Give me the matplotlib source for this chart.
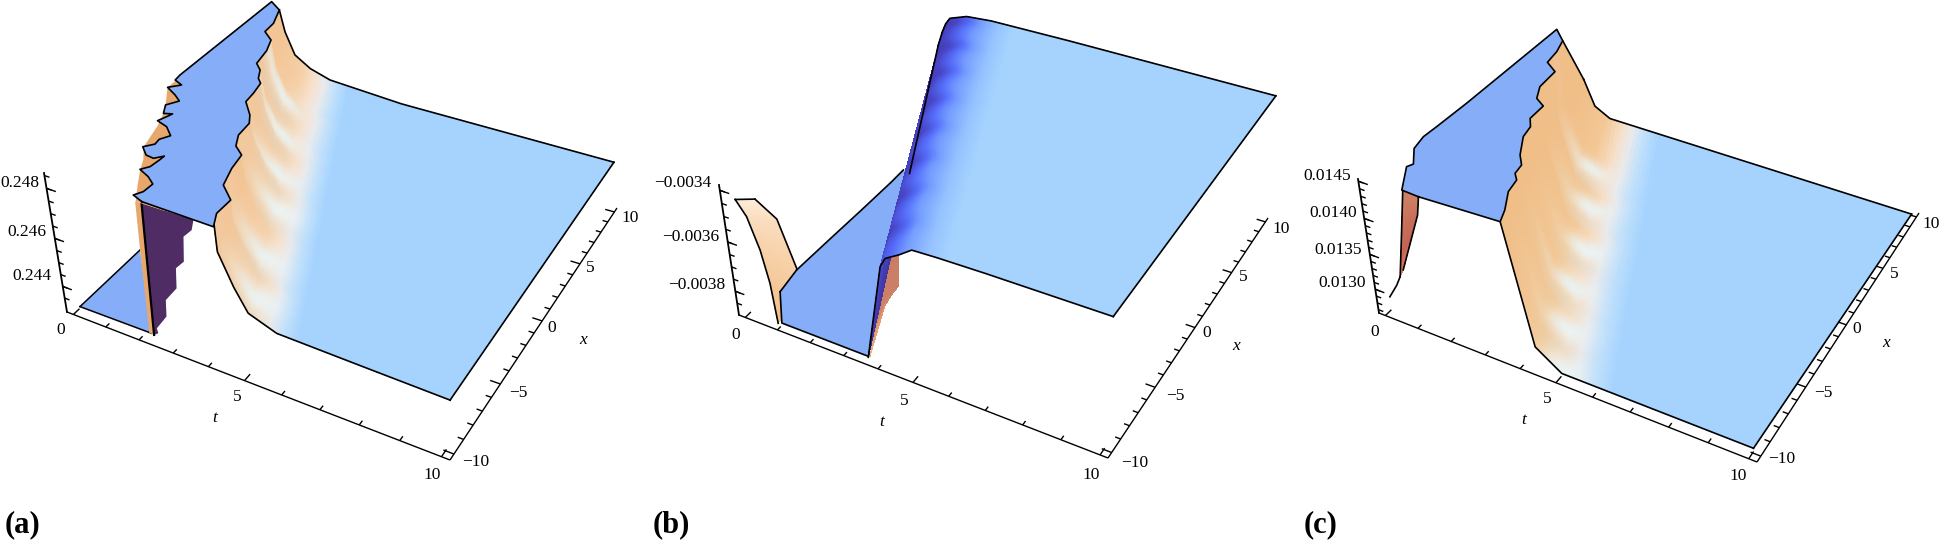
import numpy as np, matplotlib
matplotlib.use('Agg')
import matplotlib.pyplot as plt
from mpl_toolkits.mplot3d import art3d

W_PX, H_PX = 1939, 542
BLUE = (134/255, 173/255, 247/255)
PURPLE = '#502C64'
STRIP = '#E8A76C'
SERIF = 'Liberation Serif'

# ---------- panel (a) values ----------
a_zbox = (.2429, .2486)
a_zhi = .248315
a_zlo = .243185
a_ticks_major = [.244, .246, .248]
a_ticks_minor = [.2435, .2440, .2445, .2450, .2455, .2460, .2465, .2470, .2475, .2480, .2485]
a_start_x = [-10, -9.78, -8.86, -7.69, -6.84, -5.50, -4.32, -3.78, -2.90, -1.76, -1.08, -.10, .76, 1.78, 2.15, 2.92, 3.43, 4.82, 5.92, 6.58, 7.59, 9.08, 10]
a_start_t = [4.42, 4.32, 4.11, 4.12, 3.65, 3.46, 3.37, 3.04, 2.84, 2.80, 2.61, 2.19, 2.15, 2.06, 1.88, 1.70, 1.44, 1.33, 1.14, .75, .72, .47, .18]
a_front_t = [4.42, 4.44, 4.79, 5.13, 5.86, 7.22, 10.11]
a_front_z = [.24877, .24753, .24636, .24550, .24510, .24505, .24496]
a_back_t = [.18, .32, .61, 1.09, 1.73, 4.0, 10.10]
a_back_z = [.24792, .24701, .24606, .24562, .24533, .24510, .24501]
a_left_t = [2.34, 2.01, 2.14, 2.16, 1.89, 1.54, 1.69, 1.73, 1.74, 1.56, 1.32, 1.04, 1.24, 1.21, 1.37, 1.05, .69, .79, .85, .63, .45, .66, .40, .01, .27, -.02, -.05, .02]
a_left_x = [-9.69, -9.44, -9.00, -8.29, -7.89, -7.57, -7.16, -6.49, -6.10, -6.50, -6.43, -5.91, -5.44, -5.00, -4.47, -3.88, -3.63, -3.11, -2.76, -2.93, -2.21, -1.58, -1.19, -.73, -.21, .06, .60, 9.75]
a_outer_t = [2.21, 1.90, 1.56, 1.37, 1.06, .83, .63, .45, .01, .01, 1.2, 3.0]
a_outer_x = [-9.82, -8.80, -7.61, -6.80, -5.88, -4.04, -2.93, -2.21, -.73, .10, 0, -9.8]
a_purple_t = [2.45, 3.87, 3.79, 3.54, 3.47, 3.22, 3.17, 2.81, 2.77, 2.43, 2.46, 2.32]
a_purple_z = [.24844, .24846, .24804, .24767, .24667, .24629, .24546, .24480, .24410, .24342, .24323, .24308]
a_strip_t = [2.27, 2.45, 2.32, 2.18, 2.23]
a_strip_z = [.24842, .24844, .24308, .24310, .24652]
a_low_t = [.14, 2.29, .14]
a_low_x = [-10.14, -10.10, -4.96]
a_spot_t = [1.60, 2.30, 3.00, 3.70, 4.40, 5.00]
a_spot_x = [5.30, 2.60, -.20, -2.60, -6.20, -8.90]

# ---------- panel (b) values ----------
b_zbox = (-.0039, -.00338)
b_zlo = -.0038896
b_ticks_major = [-.0038, -.0036, -.0034]
b_ticks_minor = [-.00385, -.00380, -.00375, -.00370, -.00365, -.00360, -.00355, -.00350, -.00345, -.00340]
b_start_x = [-10, 10]
b_start_t = [3.60, .05]
b_front_t = [3.60, 4.17, 4.33, 4.71, 5.08, 5.65, 6.86, 10.12]
b_front_z = [-.003894, -.003503, -.003464, -.003433, -.003397, -.003393, -.003389, -.003385]
b_back_t = [.05, .20, .33, .48, 1.03, 1.78, 4.0, 10.12]
b_back_z = [-.00356, -.00350, -.00346, -.003432, -.003406, -.003397, -.003393, -.003391]
b_low_t = [.27, 1.01, 3.60, 1.0, .32, .32, .27, .21, .15]
b_low_x = [-7.97, -10.0, -10.0, 4.55, 4.55, 3.24, .13, -2.76, -6.05]
b_orange_left_t = [.07, .35, .63, .80, .89]
b_orange_left_z = [-.003439, -.003492, -.003610, -.003735, -.003897]
b_orange_right_t = [.69, 1.28, 1.70, 1.11, 1.09]
b_orange_right_z = [-.003410, -.003459, -.003630, -.003754, -.003851]
b_brown_left_t = [4.28, 4.10, 3.90, 3.65]
b_brown_left_z = [-.003472, -.003650, -.003760, -.003888]
b_brown_right_t = [4.70, 4.64, 4.28, 3.65]
b_brown_right_z = [-.003437, -.003555, -.003625, -.003888]
b_ripple_x = [-8, -5.5, -3, -.5, 2, 4.5, 7, 9.5]

# ---------- panel (c) values ----------
c_zbox = (.01265, .01453)
c_zhi = .014436
c_ticks_major = [.0130, .0135, .0140, .0145]
c_ticks_minor = [.0127, .0128, .0129, .0130, .0131, .0132, .0133, .0134, .0135, .0136, .0137, .0138, .0139, .0140, .0141, .0142, .0143, .0144, .0145]
c_start_x = [-10, -9.53, -8.68, -7.39, -6.41, -5.99, -5.25, -4.57, -3.14, -2.21, -1.58, -.28, .18, 1.23, 2.88, 3.51, 4.70, 5.86, 10]
c_start_t = [3.68, 3.51, 3.36, 3.04, 2.96, 2.78, 2.73, 2.47, 2.11, 2.03, 1.82, 1.81, 1.47, 1.24, 1.20, .77, .70, .54, -.15]
c_front_t = [3.68, 4.35, 5.05, 10.02]
c_front_z = [.01454, .01296, .01272, .01272]
c_back_t = [-.15, .19, .69, 10.06]
c_back_z = [.01326, .01288, .01275, .01267]
c_left_t = [1.29, .79, .32, .40, .02, -.08, -.05, 0, .07]
c_left_x = [-9.75, -9.69, -8.02, -7.68, -6.57, -5.51, -4.45, -1.93, 6.78]
c_brown_left_t = [.95, .73, .49]
c_brown_left_z = [.01450, .01389, .01324]
c_brown_right_t = [1.40, 1.30, .62]
c_brown_right_z = [.01449, .01423, .01336]
c_tail_t = [.49, .34, .06]
c_tail_z = [.01324, .01309, .01287]
c_spot_t = [1.60, 2.40, 3.20, 3.70, 4.40, 5.00]
c_spot_x = [4.60, 1.60, -1.60, -4.60, -7.40, -9.90]

t_major = [0, 5, 10]
t_minor = [1, 2, 3, 4, 6, 7, 8, 9]
x_major = [-10, -5, 0, 5, 10]
x_minor = [v for v in range(-9, 10) if v % 5]

STOPS_A = [(0, (243, 196, 148)), (.3, (245, 208, 168)), (.5, (247, 225, 205)), (.65, (233, 234, 236)), (.8, (195, 225, 250)), (1, (165, 211, 254))]
STOPS_C = [(0, (240, 190, 135)), (.3, (243, 200, 150)), (.5, (247, 222, 198)), (.65, (233, 234, 236)), (.8, (195, 225, 250)), (1, (165, 211, 254))]
STOPS_B = [(0, (64, 52, 160)), (.2, (72, 70, 200)), (.38, (85, 110, 250)), (.55, (115, 155, 255)), (.8, (150, 195, 255)), (1, (165, 211, 254))]


def cmap_eval(stops, u):
    pos = [s[0] for s in stops]
    return np.stack([np.interp(u, pos, [s[1][i] / 255 for s in stops]) for i in range(3)], axis=-1)


def make_panel(box_px, cam, zbox):
    """An Axes3D over one panel whose camera reproduces the reference's perspective."""
    px0, px1 = box_px
    ax = fig.add_axes([px0 / W_PX, 0, (px1 - px0) / W_PX, 1], projection='3d', computed_zorder=False)
    ax.set_axis_off()
    ax.patch.set_alpha(0)
    ax.set_proj_type('ortho')
    ax.apply_aspect = lambda position=None: None
    O, P1, P2, P3, a, b, c = cam
    O, P1, P2, P3 = map(lambda p: np.array(p, float), (O, P1, P2, P3))
    A = P1 * (1 + a) - O
    B = P2 * (1 + a + b) - O - A
    C = P3 * (1 + c) - O
    zb, zt = zbox

    def get_proj():
        xl = ax.viewLim.intervalx
        yl = ax.viewLim.intervaly
        norm = np.array([[1 / 10.4, 0, 0, .2 / 10.4],
                         [0, 1 / 20.8, 0, 10.4 / 20.8],
                         [0, 0, 1 / (zt - zb), -zb / (zt - zb)],
                         [0, 0, 0, 1]])
        w_row = np.array([a, b, c, 1.0])
        x_row = np.array([A[0], B[0], C[0], O[0]])
        y_row = np.array([A[1], B[1], C[1], O[1]])
        sx = (xl[1] - xl[0]) / (px1 - px0)
        sy = (yl[1] - yl[0]) / H_PX
        r0 = (x_row - px0 * w_row) * sx + xl[0] * w_row
        r1 = (H_PX * w_row - y_row) * sy + yl[0] * w_row
        r2 = np.array([-.3, .3, -.25, -1.5])
        return np.array([r0, r1, r2, w_row]) @ norm
    ax.get_proj = get_proj
    ax.set_xlim(0, 10)
    ax.set_ylim(-10, 10)
    ax.set_zlim(zb, zt)
    return ax


def box_axes(ax, zbox, zmaj, zmin, labels_px):
    zb, zt = zbox
    lw = 1.0
    kw = dict(color='k', lw=lw, zorder=2, solid_capstyle='butt')
    ax.plot([-.2, 10.2], [-10.4, -10.4], [zb, zb], **kw)
    ax.plot([10.2, 10.2], [-10.4, 10.4], [zb, zb], **kw)
    ax.plot([-.2, -.2], [-10.4, -10.4], [zb, zt], color='k', lw=1.3, zorder=2)
    for v in t_major + t_minor:
        L = .5 if v in t_major else .3
        ax.plot([v, v], [-10.4, -10.4 + L], [zb, zb], **kw)
    for v in x_major + x_minor:
        L = .25 if v in x_major else .14
        ax.plot([10.2, 10.2 - L], [v, v], [zb, zb], **kw)
    for v in zmin:
        ax.plot([-.2, -.05], [-10.4, -10.4], [v, v], **kw)
    for v in zmaj:
        ax.plot([-.2, .08], [-10.4, -10.4], [v, v], **kw)
    for s, px, py, style in labels_px:
        ax.text2D(px / W_PX, 1 - py / H_PX, s, transform=fig.transFigure, ha='center', va='center',
                  family=SERIF, fontsize=12.5, style=style, zorder=20)


def wall(ax, xs_tab, ts_tab, z_mid, front_t, front_z, back_t, back_z, decay, tc, stops, zo,
         spot_t=(), spot_x=(), line_from=10., ripple=(), hi=(.91, .97, .99)):
    nr, nc = 260, 220
    xs = np.linspace(-10, 10, nr)
    te = np.interp(xs, xs_tab, ts_tab)
    zs = np.interp(xs, xs_tab, [front_z[0]] + [z_mid] * (len(xs_tab) - 2) + [back_z[0]])
    K = len(front_t)
    kk = np.linspace(0, K - 1, nc)
    f = (xs + 10) / 20
    ft = np.interp(kk, range(K), front_t)
    bt = np.interp(kk, range(K), back_t)
    fz = np.interp(kk, range(K), front_z)
    bz = np.interp(kk, range(K), back_z)
    dc = np.interp(kk, range(K), decay)
    base0 = (1 - f) * front_t[0] + f * back_t[0]
    T = np.outer(1 - f, ft) + np.outer(f, bt) + np.outer(te - base0, dc)
    Z = np.outer(1 - f, fz) + np.outer(f, bz)
    Z[:, 0] = zs
    X = np.outer(xs, np.ones(nc))
    tce = (1 - f) * tc[0] + f * tc[1]
    U = (T - te[:, None]) / (tce - te)[:, None]
    for rx in ripple:
        U = U - .10 * np.exp(-((X - rx) / .65) ** 2) * np.exp(-((U - .35) / .3) ** 2)
    U = np.clip(U, 0, 1)
    C = cmap_eval(stops, U)
    for st, sx in zip(spot_t, spot_x):
        g = np.exp(-((T - st) / .55) ** 2 - ((X - sx) / .8) ** 2)[..., None]
        C = C * (1 - .8 * g) + np.array(hi) * .8 * g
        g2 = np.exp(-((T - st - .15) / .5) ** 2 - ((X - sx + 1.25) / .55) ** 2)[..., None]
        C = C * (1 - .3 * g2) + np.array([.84, .84, .80]) * .3 * g2
    ax.plot_surface(T, X, Z, facecolors=C, rstride=1, cstride=1, shade=False, linewidth=0,
                    antialiased=False, zorder=zo)
    kw = dict(color='k', lw=1.2, zorder=zo + 1)
    ax.plot(T[0], X[0], Z[0], **kw)
    ax.plot(T[-1], X[-1], Z[-1], **kw)
    ax.plot(T[:, -1], X[:, -1], Z[:, -1], **kw)
    sel = xs >= line_from
    if sel.sum() > 1:
        ax.plot(T[sel, 0], X[sel, 0], Z[sel, 0], **kw)


def poly(ax, t, x, z, color, zo, line=None):
    v = [list(zip(t, x, z))]
    p = art3d.Poly3DCollection(v, facecolor=color, edgecolor='none', linewidth=0, zorder=zo)
    ax.add_collection3d(p, autolim=False)
    if line is not None:
        ax.plot(list(t) + [t[0]], list(x) + [x[0]], list(z) + [z[0]], color='k', lw=line, zorder=zo + 1)


def patch(ax, lt, lz, rt, rz, x0, stops, zo):
    n, m = 60, 20
    p = np.linspace(0, 1, n)
    lp = np.linspace(0, 1, len(lt))
    rp = np.linspace(0, 1, len(rt))
    Lt, Lz = np.interp(p, lp, lt), np.interp(p, lp, lz)
    Rt, Rz = np.interp(p, rp, rt), np.interp(p, rp, rz)
    s = np.linspace(0, 1, m)
    T = np.outer(Lt, 1 - s) + np.outer(Rt, s)
    Z = np.outer(Lz, 1 - s) + np.outer(Rz, s)
    X = np.full_like(T, x0, dtype=float)
    C = cmap_eval(stops, np.outer(p, np.ones(m)))
    ax.plot_surface(T, X, Z, facecolors=C, rstride=1, cstride=1, shade=False, linewidth=0,
                    antialiased=False, zorder=zo)


fig = plt.figure(figsize=(W_PX / 100, H_PX / 100), dpi=100, facecolor='white')

# ---- panel (a)
axa = make_panel((0, 640), ((67, 312), (450, 460), (617, 208), (44, 173), -.136, .2, -.0565), a_zbox)
box_axes(axa, a_zbox, a_ticks_major, a_ticks_minor, [
    ('0', 61, 330, 'normal'), ('5', 237, 397, 'normal'), ('10', 432, 475, 'normal'), ('t', 215, 418, 'italic'),
    ('10', 630, 218, 'normal'), ('5', 590, 268, 'normal'), ('0', 552, 328, 'normal'), ('\u22125', 518, 393, 'normal'),
    ('\u221210', 476, 462, 'normal'), ('x', 583, 340, 'italic'),
    ('0.248', 20, 183, 'normal'), ('0.246', 27, 232, 'normal'), ('0.244', 32, 276, 'normal')])
poly(axa, a_low_t, a_low_x, [a_zlo] * 3, BLUE, 3)
axa.plot(a_low_t[:2], a_low_x[:2], [a_zlo] * 2, color='k', lw=1.1, zorder=4)
axa.plot([a_low_t[0], a_low_t[2]], [a_low_x[0], a_low_x[2]], [a_zlo] * 2, color='k', lw=1.1, zorder=4)
poly(axa, a_purple_t, [-10] * len(a_purple_t), a_purple_z, PURPLE, 5)
poly(axa, a_strip_t, [-10] * len(a_strip_t), a_strip_z, STRIP, 6)
axa.plot(a_strip_t[1:3], [-10, -10], a_strip_z[1:3], color='k', lw=1.6, zorder=7)
poly(axa, a_outer_t, a_outer_x, [a_zhi] * len(a_outer_t), STRIP, 8)
wall(axa, a_start_x, a_start_t, a_zhi, a_front_t, a_front_z, a_back_t, a_back_z,
     [1, .8, .5, .25, .1, 0, 0], (6.4, 2.3), STOPS_A, 10, a_spot_t, a_spot_x, line_from=9.08)
aR_t = a_start_t[1:-1]
aR_x = a_start_x[1:-1]
poly(axa, a_left_t + aR_t[::-1], a_left_x + aR_x[::-1], [a_zhi] * (len(a_left_t) + len(aR_t)), BLUE, 14, line=1.2)

# ---- panel (b)
axb = make_panel((640, 1290), ((739, 315), (1108, 458), (1268, 218), (719, 185), -.108, .17, -.0617), b_zbox)
box_axes(axb, b_zbox, b_ticks_major, b_ticks_minor, [
    ('0', 736, 335, 'normal'), ('5', 904, 401, 'normal'), ('t', 882, 422, 'italic'), ('10', 1091, 475, 'normal'),
    ('10', 1281, 229, 'normal'), ('5', 1243, 277, 'normal'), ('0', 1207, 333, 'normal'), ('\u22125', 1175, 396, 'normal'),
    ('\u221210', 1135, 463, 'normal'), ('x', 1236, 346, 'italic'),
    ('\u22120.0034', 683, 183, 'normal'), ('\u22120.0036', 691, 237, 'normal'), ('\u22120.0038', 697, 285, 'normal')])
patch(axb, b_orange_left_t, b_orange_left_z, b_orange_right_t, b_orange_right_z, -10,
      [(0, (253, 236, 218)), (.45, (247, 210, 170)), (1, (243, 190, 135))], 3)
axb.plot(b_orange_left_t, [-10] * 5, b_orange_left_z, color='k', lw=1.2, zorder=4)
axb.plot(b_orange_right_t[:3], [-10] * 3, b_orange_right_z[:3], color='k', lw=1.2, zorder=4)
axb.plot([b_orange_left_t[0], b_orange_right_t[0]], [-10, -10], [b_orange_left_z[0], b_orange_right_z[0]], color='k', lw=1.2, zorder=4)
poly(axb, b_low_t, b_low_x, [b_zlo] * len(b_low_t), BLUE, 5)
axb.plot(b_low_t[:3], b_low_x[:3], [b_zlo] * 3, color='k', lw=1.2, zorder=6)
axb.plot(b_low_t[4:], b_low_x[4:], [b_zlo] * 5, color='k', lw=1.2, zorder=6)
axb.plot([b_low_t[-1], b_low_t[0]], [b_low_x[-1], b_low_x[0]], [b_zlo] * 2, color='k', lw=1.2, zorder=6)
patch(axb, b_brown_left_t, b_brown_left_z, b_brown_right_t, b_brown_right_z, -10,
      [(0, (200, 125, 100)), (.45, (205, 130, 105)), (.75, (230, 155, 110)), (1, (240, 180, 130))], 7)
wall(axb, b_start_x, b_start_t, 0, b_front_t, b_front_z, b_back_t, b_back_z,
     [1] * 8, (6.0, 2.5), STOPS_B, 10, line_from=1.0, ripple=b_ripple_x)

# ---- panel (c)
axc = make_panel((1290, 1939), ((1379, 313), (1757, 462), (1919, 213), (1358, 179), -.12, .2, -.058), c_zbox)
box_axes(axc, c_zbox, c_ticks_major, c_ticks_minor, [
    ('0', 1375, 332, 'normal'), ('5', 1547, 399, 'normal'), ('t', 1524, 420, 'italic'), ('10', 1738, 476, 'normal'),
    ('10', 1931, 224, 'normal'), ('5', 1894, 274, 'normal'), ('0', 1857, 329, 'normal'), ('\u22125', 1823, 393, 'normal'),
    ('\u221210', 1782, 459, 'normal'), ('x', 1886, 343, 'italic'),
    ('0.0145', 1327, 176, 'normal'), ('0.0140', 1333, 213, 'normal'), ('0.0135', 1338, 250, 'normal'), ('0.0130', 1342, 283, 'normal')])
patch(axc, c_brown_left_t, c_brown_left_z, c_brown_right_t, c_brown_right_z, -10,
      [(0, (205, 130, 100)), (.7, (195, 100, 85)), (1, (225, 120, 95))], 3)
axc.plot(c_brown_left_t, [-10] * 3, c_brown_left_z, color='k', lw=1.2, zorder=4)
axc.plot(c_brown_right_t, [-10] * 3, c_brown_right_z, color='k', lw=1.2, zorder=4)
axc.plot(c_tail_t, [-10] * 3, c_tail_z, color='k', lw=1.2, zorder=4)
wall(axc, c_start_x, c_start_t, c_zhi, c_front_t, c_front_z, c_back_t, c_back_z,
     [1, .4, 0, 0], (6.4, 2.3), STOPS_C, 10, c_spot_t, c_spot_x, line_from=5.86)
cR_t = c_start_t[1:-1]
cR_x = c_start_x[1:-1]
poly(axc, c_left_t + cR_t[::-1], c_left_x + cR_x[::-1], [c_zhi] * (len(c_left_t) + len(cR_t)), BLUE, 14, line=1.2)

for s, px in (('(a)', 23), ('(b)', 671), ('(c)', 1321)):
    fig.text(px / W_PX, 1 - 525 / H_PX, s, family=SERIF, weight='bold', fontsize=22, ha='center', va='center')

fig.savefig('out.png', dpi=100, facecolor='white')
